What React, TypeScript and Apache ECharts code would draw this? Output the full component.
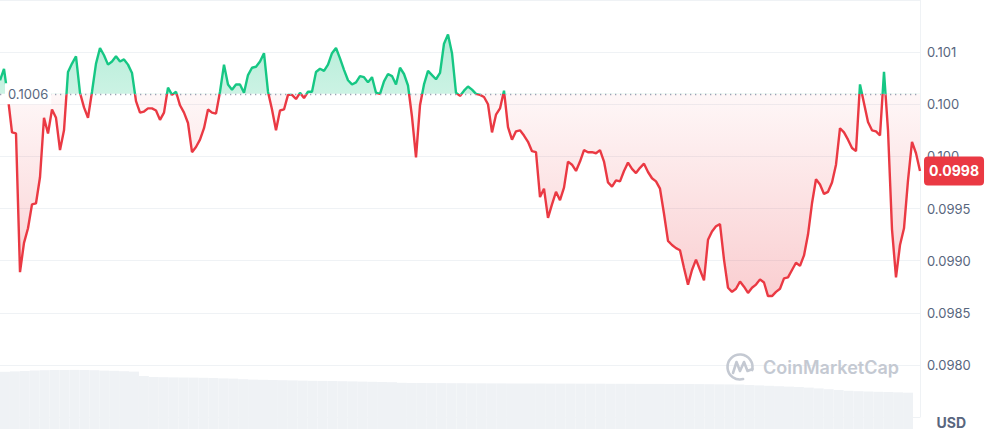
import React, { useEffect, useRef } from 'react';
import * as echarts from 'echarts';

// Reference (open) price of the period
const baseline = 0.1006;
const baselineLabel = '0.1006';
const lastPriceLabel = '0.0998';

// Price readings, evenly spaced through the day
const prices: number[] = [
  0.10073, 0.10084, 0.10056, 0.10023, 0.10022, 0.09889, 0.09917, 0.09931, 0.09954, 0.09955, 0.09980, 0.10037,
  0.10022, 0.10045, 0.10037, 0.10006, 0.10025, 0.10081, 0.10089, 0.10096, 0.10061, 0.10047, 0.10037, 0.10062,
  0.10089, 0.10104, 0.10097, 0.10088, 0.10091, 0.10096, 0.10091, 0.10093, 0.10088, 0.10080, 0.10053, 0.10042,
  0.10043, 0.10046, 0.10046, 0.10044, 0.10035, 0.10042, 0.10066, 0.10059, 0.10062, 0.10049, 0.10042, 0.10032,
  0.10004, 0.10009, 0.10016, 0.10027, 0.10045, 0.10042, 0.10041, 0.10062, 0.10088, 0.10069, 0.10064, 0.10069,
  0.10069, 0.10061, 0.10078, 0.10085, 0.10086, 0.10091, 0.10099, 0.10062, 0.10045, 0.10025, 0.10044, 0.10045,
  0.10059, 0.10059, 0.10055, 0.10061, 0.10056, 0.10062, 0.10062, 0.10081, 0.10084, 0.10082, 0.10088, 0.10099,
  0.10104, 0.10094, 0.10083, 0.10073, 0.10069, 0.10071, 0.10077, 0.10076, 0.10071, 0.10076, 0.10061, 0.10060,
  0.10072, 0.10079, 0.10077, 0.10069, 0.10085, 0.10079, 0.10068, 0.10038, 0.09999, 0.10049, 0.10069, 0.10082,
  0.10078, 0.10074, 0.10080, 0.10108, 0.10117, 0.10099, 0.10061, 0.10058, 0.10063, 0.10067, 0.10064, 0.10060,
  0.10059, 0.10057, 0.10050, 0.10023, 0.10040, 0.10046, 0.10063, 0.10028, 0.10016, 0.10024, 0.10025, 0.10020,
  0.10014, 0.10005, 0.10004, 0.09961, 0.09969, 0.09941, 0.09954, 0.09966, 0.09958, 0.09970, 0.09995, 0.09992,
  0.09986, 0.09995, 0.10006, 0.10004, 0.10004, 0.10003, 0.10006, 0.09995, 0.09975, 0.09971, 0.09977, 0.09976,
  0.09986, 0.09994, 0.09988, 0.09984, 0.09989, 0.09993, 0.09985, 0.09979, 0.09976, 0.09969, 0.09945, 0.09919,
  0.09915, 0.09912, 0.09910, 0.09893, 0.09877, 0.09891, 0.09901, 0.09891, 0.09881, 0.09920, 0.09928, 0.09933,
  0.09935, 0.09901, 0.09874, 0.09870, 0.09873, 0.09880, 0.09875, 0.09869, 0.09874, 0.09877, 0.09882, 0.09879,
  0.09866, 0.09866, 0.09870, 0.09873, 0.09883, 0.09884, 0.09891, 0.09898, 0.09895, 0.09905, 0.09925, 0.09955,
  0.09978, 0.09973, 0.09964, 0.09966, 0.09975, 0.09992, 0.10027, 0.10023, 0.10016, 0.10008, 0.10005, 0.10069,
  0.10051, 0.10033, 0.10025, 0.10024, 0.10020, 0.10081, 0.10025, 0.09930, 0.09884, 0.09915, 0.09931, 0.09977,
  0.10014, 0.10003, 0.09986,
];

// 24h trading volume (millions USD), evenly spaced through the day
const volumes: number[] = [
  572, 576, 580, 585, 588, 590, 590, 591, 590, 588,
  584, 582, 578, 574, 530, 520, 518, 516, 515, 514,
  512, 510, 506, 504, 498, 494, 492, 490, 488, 486,
  484, 482, 481, 480, 478, 476, 474, 472, 470, 468,
  462, 460, 460, 459, 459, 458, 458, 457, 457, 456,
  456, 456, 455, 455, 455, 454, 454, 454, 453, 453,
  453, 452, 452, 452, 451, 451, 451, 450, 450, 450,
  449, 448, 447, 446, 445, 440, 436, 432, 428, 424,
  420, 414, 406, 398, 390, 382, 378, 375, 372, 370,
  367, 363,
];

// Y axis ticks (0.0975 .. 0.1015 by 0.0005) and their displayed labels
const yMin = 0.0975;
const yMax = 0.1015;
const yInterval = 0.0005;
const yTickLabels = ['', '0.0980', '0.0985', '0.0990', '0.0995', '0.100', '0.100', '0.101', ''];

const fmtTime = (minutes: number) => {
  const h = Math.floor(minutes / 60) % 24;
  const m = Math.floor(minutes % 60);
  return `${String(h).padStart(2, '0')}:${String(m).padStart(2, '0')}`;
};
const priceTimes = prices.map((_, i) => fmtTime((i * 1440) / prices.length));
const volumeTimes = volumes.map((_, i) => fmtTime((i * 1440) / volumes.length));

const GREEN = '#16c784';
const RED = '#ea3943';
const LABEL = '#58667e';
const GRID = '#eff2f5';
const WATERMARK = '#c4c9d2';

export default function App() {
  const ref = useRef<HTMLDivElement>(null);

  useEffect(() => {
    if (!ref.current) return;
    const chart = echarts.init(ref.current, undefined, { renderer: 'svg' });
    const last = prices.length - 1;

    const option: any = {
      animation: false,
      textStyle: { fontFamily: 'Inter, "Noto Sans", sans-serif' },
      grid: [
        { left: 0, right: 69, top: 0, bottom: 15 },
        { left: 0, right: 76, top: 365, bottom: 3 },
      ],
      xAxis: [
        { type: 'category', gridIndex: 0, data: priceTimes, boundaryGap: false, show: false },
        { type: 'category', gridIndex: 1, data: volumeTimes, show: false },
      ],
      yAxis: [
        {
          type: 'value',
          gridIndex: 0,
          position: 'right',
          min: yMin,
          max: yMax,
          interval: yInterval,
          axisLine: { show: true, lineStyle: { color: GRID, width: 1 } },
          axisTick: { show: false },
          splitLine: { show: true, lineStyle: { color: GRID, width: 1 } },
          axisLabel: {
            margin: 7,
            color: LABEL,
            fontSize: 13,
            fontFamily: 'Inter',
            formatter: (v: number) => yTickLabels[Math.round((v - yMin) / yInterval)] ?? '',
          },
        },
        { type: 'value', gridIndex: 1, min: 0, max: 640, show: false },
      ],
      visualMap: {
        show: false,
        type: 'piecewise',
        seriesIndex: 0,
        dimension: 1,
        pieces: [
          { lte: baseline, color: RED },
          { gt: baseline, lte: yMax, color: GREEN },
          { gt: yMax, color: GREEN },
        ],
      },
      series: [
        {
          name: 'Price',
          type: 'line',
          xAxisIndex: 0,
          yAxisIndex: 0,
          data: prices,
          showSymbol: false,
          symbol: 'none',
          lineStyle: { width: 2.4 },
          z: 3,
          silent: true,
          markLine: {
            silent: true,
            symbol: 'none',
            precision: 6,
            label: { show: false },
            lineStyle: { color: '#9aa2b4', width: 1.3, type: [1.3, 3.7] },
            data: [{ yAxis: baseline }],
          },
          markPoint: {
            silent: true,
            symbol: 'circle',
            symbolSize: 0,
            data: [
              {
                coord: [0, baseline],
                label: {
                  show: true,
                  position: 'right',
                  distance: 5,
                  formatter: baselineLabel,
                  backgroundColor: '#ffffff',
                  padding: [4, 3],
                  color: LABEL,
                  fontSize: 13,
                  fontFamily: 'Inter',
                },
              },
              {
                coord: [last, prices[last]],
                label: {
                  show: true,
                  position: 'right',
                  distance: 4,
                  formatter: lastPriceLabel,
                  backgroundColor: RED,
                  borderRadius: 4,
                  padding: [8, 5, 7, 5],
                  color: '#ffffff',
                  fontSize: 14,
                  fontWeight: 'bold',
                  fontFamily: 'Inter',
                },
              },
            ],
          },
        },
        {
          name: 'Area',
          type: 'line',
          xAxisIndex: 0,
          yAxisIndex: 0,
          data: prices,
          showSymbol: false,
          symbol: 'none',
          silent: true,
          z: 1,
          lineStyle: { width: 0, opacity: 0 },
          areaStyle: {
            origin: baseline,
            opacity: 1,
            color: new echarts.graphic.LinearGradient(
              0, 0, 0, 417,
              [
                { offset: 0, color: 'rgba(22,199,132,0.38)' },
                { offset: 0.225, color: 'rgba(22,199,132,0.22)' },
                { offset: 0.2251, color: 'rgba(234,57,67,0.04)' },
                { offset: 0.72, color: 'rgba(234,57,67,0.25)' },
                { offset: 1, color: 'rgba(234,57,67,0.3)' },
              ],
              true
            ),
          },
        },
        {
          name: 'Volume',
          type: 'bar',
          xAxisIndex: 1,
          yAxisIndex: 1,
          data: volumes,
          barCategoryGap: '0%',
          itemStyle: { color: GRID },
          silent: true,
          z: 0,
        },
      ],
      graphic: [
        {
          type: 'arc',
          z: 10,
          shape: { cx: 740, cy: 367, r: 12.5, startAngle: Math.PI * 0.42, endAngle: Math.PI * 2.08 },
          style: { stroke: WATERMARK, lineWidth: 2.6, fill: 'none', lineCap: 'round' },
        },
        {
          type: 'polyline',
          z: 10,
          shape: {
            points: [
              [733, 373],
              [736.5, 362],
              [740, 371],
              [744, 362],
              [747.5, 371],
              [752.5, 369],
            ],
          },
          style: { stroke: WATERMARK, lineWidth: 2.6, fill: 'none', lineJoin: 'round', lineCap: 'round' },
        },
        {
          type: 'text',
          z: 10,
          left: 763,
          top: 358,
          style: { text: 'CoinMarketCap', fill: WATERMARK, font: '600 18px Inter' },
        },
        {
          type: 'text',
          right: 23,
          bottom: 3,
          style: { text: 'USD', fill: LABEL, font: 'bold 14px Inter' },
        },
      ],
    };

    chart.setOption(option);
    return () => chart.dispose();
  }, []);

  return (
    <div
      ref={ref}
      style={{ position: 'fixed', left: 0, top: 0, width: 989, height: 432, background: '#ffffff' }}
    />
  );
}
